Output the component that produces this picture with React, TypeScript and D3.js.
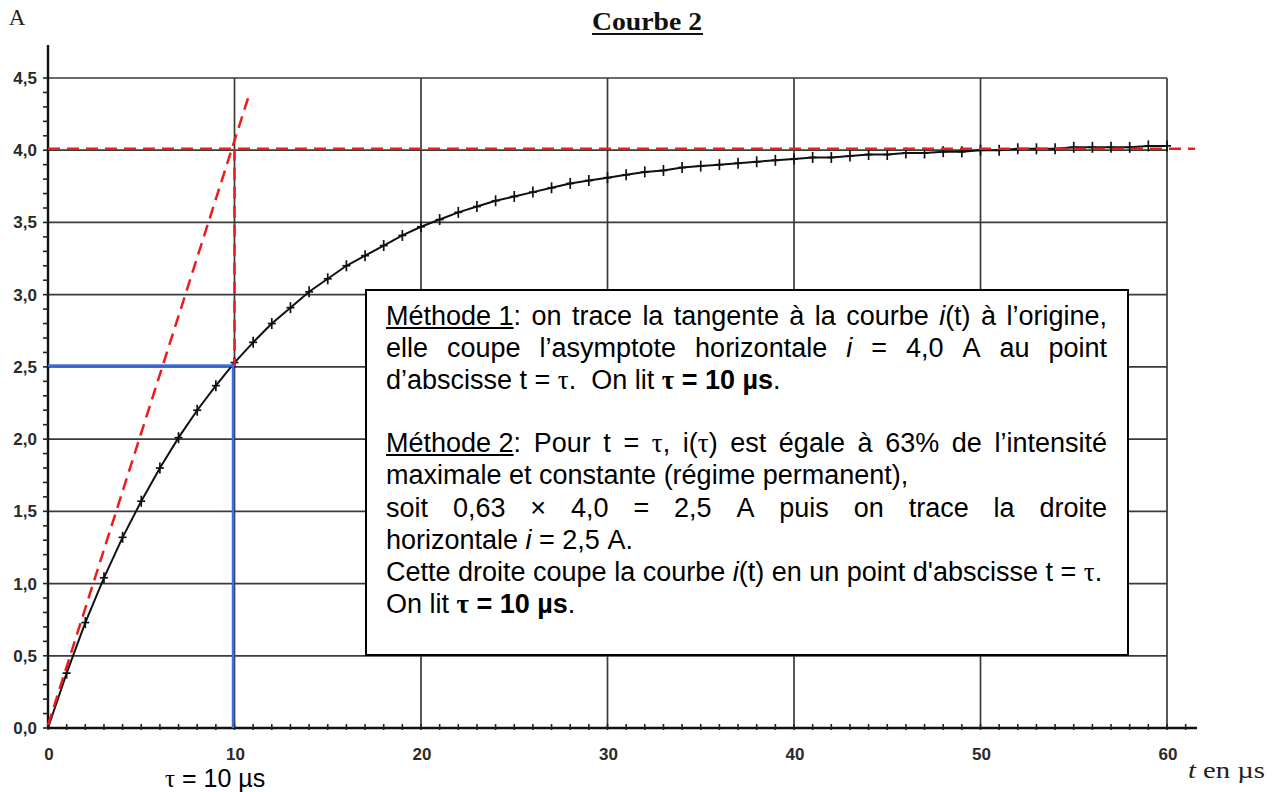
import React, { useMemo } from "react";
import * as d3 from "d3";

// ---------- data ----------
const tTimes = [
  0, 1, 2, 3, 4, 5, 6, 7, 8, 9, 10, 11, 12, 13, 14, 15, 16, 17, 18, 19, 20,
  21, 22, 23, 24, 25, 26, 27, 28, 29, 30, 31, 32, 33, 34, 35, 36, 37, 38, 39, 40,
  41, 42, 43, 44, 45, 46, 47, 48, 49, 50, 51, 52, 53, 54, 55, 56, 57, 58, 59, 60,
];
const iValues = [
  0, 0.38, 0.73, 1.04, 1.32, 1.57, 1.8, 2.01, 2.2, 2.37, 2.53,
  2.67, 2.8, 2.91, 3.02, 3.11, 3.2, 3.27, 3.34, 3.41, 3.47,
  3.52, 3.57, 3.61, 3.65, 3.68, 3.71, 3.74, 3.77, 3.79, 3.81,
  3.83, 3.85, 3.86, 3.88, 3.89, 3.9, 3.91, 3.92, 3.93, 3.94,
  3.95, 3.95, 3.96, 3.97, 3.97, 3.98, 3.98, 3.99, 3.99, 4.0,
  4.0, 4.01, 4.01, 4.01, 4.02, 4.02, 4.02, 4.02, 4.03, 4.03,
];
const xMajorTicks = [0, 10, 20, 30, 40, 50, 60];
const xTickLabels = ["0", "10", "20", "30", "40", "50", "60"];
const yMajorTicks = [0, 0.5, 1, 1.5, 2, 2.5, 3, 3.5, 4, 4.5];
const yTickLabels = ["0,0", "0,5", "1,0", "1,5", "2,0", "2,5", "3,0", "3,5", "4,0", "4,5"];
const xMinorTicks = d3.range(0, 62, 1);
const yMinorTicks = d3.range(0, 4.55, 0.1);
const tangentPts: [number, number][] = [[0, 0.02], [10.75, 4.37]];
const asymptotePts: [number, number][] = [[0, 4.01], [61.5, 4.01]];
const tauVerticalRed: [number, number][] = [[10, 4.01], [10, 2.51]];
const blueHorizontal: [number, number][] = [[0, 2.51], [10, 2.51]];
const blueVertical: [number, number][] = [[9.92, 2.51], [9.92, 0]];

const boxLines: { s: string; j: boolean }[] = [
  { s: "_Méthode~1_: on trace la tangente à la courbe *i*(t) à l’origine,", j: true },
  { s: "elle coupe l’asymptote horizontale *i* = 4,0 A au point", j: true },
  { s: "d’abscisse t = τ.~~On lit #τ~=~10~µs#.", j: false },
  { s: "", j: false },
  { s: "_Méthode~2_: Pour t = τ, i(τ) est égale à 63% de l’intensité", j: true },
  { s: "maximale et constante (régime permanent),", j: false },
  { s: "soit 0,63 × 4,0 = 2,5 A puis on trace la droite", j: true },
  { s: "horizontale *i* = 2,5 A.", j: false },
  { s: "Cette droite coupe la courbe *i*(t) en un point d'abscisse t = τ.", j: false },
  { s: "On lit #τ~=~10~µs#.", j: false },
];

// ---------- helpers ----------
type Seg = { t: string; u: boolean; it: boolean; b: boolean; g: boolean };
const FS = 27;
const SANS = "Liberation Sans, Arial, sans-serif";
const SERIF = "Liberation Serif, Times New Roman, serif";

function parseWord(w: string): Seg[] {
  const segs: Seg[] = [];
  let u = false, it = false, b = false;
  let cur = "";
  const push = () => {
    if (!cur) return;
    const parts = cur.split(/(τ)/);
    parts.forEach((p) => {
      if (p) segs.push({ t: p, u, it, b, g: p === "τ" });
    });
    cur = "";
  };
  for (const ch of w) {
    if (ch === "_") { push(); u = !u; }
    else if (ch === "*") { push(); it = !it; }
    else if (ch === "#") { push(); b = !b; }
    else if (ch === "~") cur += " ";
    else cur += ch;
  }
  push();
  return segs;
}

function fontOf(s: Seg) {
  return `${s.it ? "italic " : ""}${s.b ? "bold " : ""}${FS}px ${s.g ? SERIF : SANS}`;
}

export default function App() {
  const W = 1281, H = 792;
  const x = d3.scaleLinear().domain([0, 60]).range([48, 1167]);
  const y = d3.scaleLinear().domain([0, 4.5]).range([728, 78]);
  const line = d3.line<[number, number]>().x((d) => x(d[0])).y((d) => y(d[1]));
  const curve: [number, number][] = tTimes.map((t, k) => [t, iValues[k]]);

  const textLayout = useMemo(() => {
    const cv = document.createElement("canvas");
    const ctx = cv.getContext("2d")!;
    const measure = (s: Seg) => { ctx.font = fontOf(s); return ctx.measureText(s.t).width; };
    ctx.font = `${FS}px ${SANS}`;
    const spaceW = ctx.measureText(" ").width;
    const left = 386, right = 1107;
    const baselines = [325, 357, 389, 421, 452, 484, 517, 549, 581, 613];
    const out: { x: number; y: number; seg: Seg; w: number }[] = [];
    boxLines.forEach((ln, li) => {
      if (!ln.s) return;
      const words = ln.s.split(" ").map(parseWord);
      const ww = words.map((ws) => ws.reduce((a, s) => a + measure(s), 0));
      const total = ww.reduce((a, b) => a + b, 0);
      const gap = ln.j && words.length > 1 ? (right - left - total) / (words.length - 1) : spaceW;
      let cx = left;
      words.forEach((ws) => {
        ws.forEach((s) => {
          const w = measure(s);
          out.push({ x: cx, y: baselines[li], seg: s, w });
          cx += w;
        });
        cx += gap;
      });
    });
    return out;
  }, []);

  const red = "#f01a1a";
  const blue = "#3b6fe8";

  return (
    <svg width={W} height={H} style={{ position: "absolute", left: 0, top: 0, display: "block", background: "#fff" }}>
      <rect x={0} y={0} width={W} height={H} fill="#fff" />
      {/* title */}
      <text x={592} y={30} fontFamily={SERIF} fontWeight="bold" fontSize={25} fill="#111" textLength={110} lengthAdjust="spacingAndGlyphs">Courbe 2</text>
      <line x1={592} x2={703} y1={34} y2={34} stroke="#111" strokeWidth={2} />
      <text x={17} y={25} textAnchor="middle" fontFamily={SERIF} fontSize={23} fill="#222">A</text>

      {/* grid */}
      <g stroke="#3a3a3a" strokeWidth={1.7}>
        {xMajorTicks.filter((t) => t > 0).map((t) => (
          <line key={"gx" + t} x1={x(t)} x2={x(t)} y1={y(0)} y2={y(4.5)} />
        ))}
        {yMajorTicks.filter((v) => v > 0).map((v) => (
          <line key={"gy" + v} x1={x(0)} x2={x(60)} y1={y(v)} y2={y(v)} />
        ))}
      </g>
      {/* axes */}
      <line x1={x(0)} x2={x(0)} y1={y(0)} y2={45} stroke="#111" strokeWidth={2.4} />
      <line x1={x(0)} x2={1197} y1={y(0)} y2={y(0)} stroke="#111" strokeWidth={2.4} />
      <g stroke="#222" strokeWidth={1.6}>
        {xMinorTicks.map((t) => (
          <line key={"mx" + t} x1={x(t)} x2={x(t)} y1={y(0) - 4} y2={y(0) + 2} />
        ))}
        {yMinorTicks.map((v, k) => (
          <line key={"my" + k} x1={x(0) - 5} x2={x(0)} y1={y(v)} y2={y(v)} />
        ))}
      </g>
      {/* tick labels */}
      <g fontFamily={SANS} fontWeight="bold" fontSize="17px" fill="#2a2a2a">
        {yMajorTicks.map((v, k) => (
          <text key={"ly" + k} x={37} y={y(v)} dy="0.35em" textAnchor="end" fontSize="17px">{yTickLabels[k]}</text>
        ))}
        {xMajorTicks.map((t, k) => (
          <text key={"lx" + k} x={x(t) + 1} y={760} textAnchor="middle" fontSize="17px">{xTickLabels[k]}</text>
        ))}
      </g>
      <text x={1188} y={778} fontFamily={SERIF} fontSize={23} fill="#222" textLength={77} lengthAdjust="spacingAndGlyphs">
        <tspan fontStyle="italic">t</tspan> en µs
      </text>
      <text x={165} y={787} fontFamily={SANS} fontSize={25} fill="#000">
        <tspan fontFamily={SERIF}>τ</tspan> = 10 µs
      </text>

      {/* curve */}
      <path d={line(curve) || ""} fill="none" stroke="#111" strokeWidth={2} />
      <g stroke="#111" strokeWidth={1.7}>
        {curve.slice(1).map((d, k) => (
          <g key={"m" + k}>
            <line x1={x(d[0])} x2={x(d[0])} y1={y(d[1]) - 5.5} y2={y(d[1]) + 5.5} />
            <line x1={x(d[0]) - 4} x2={x(d[0]) + 4} y1={y(d[1])} y2={y(d[1])} />
          </g>
        ))}
      </g>

      {/* blue construction lines */}
      <path d={line(blueHorizontal) || ""} stroke={blue} strokeWidth={2.5} fill="none" />
      <path d={line(blueVertical) || ""} stroke={blue} strokeWidth={2.5} fill="none" />
      {/* red dashed lines */}
      <g stroke={red} strokeWidth={2.5} strokeDasharray="12 7" fill="none">
        <path d={line(tangentPts) || ""} />
        <path d={line(asymptotePts) || ""} />
        <path d={line(tauVerticalRed) || ""} />
      </g>

      {/* text box */}
      <rect x={366} y={290} width={762} height={365} fill="#fff" stroke="#000" strokeWidth={2} />
      {textLayout.map((p, k) => (
        <g key={"tx" + k}>
          <text
            x={p.x}
            y={p.y}
            fontFamily={p.seg.g ? SERIF : SANS}
            fontSize={FS}
            fontStyle={p.seg.it ? "italic" : "normal"}
            fontWeight={p.seg.b ? "bold" : "normal"}
            fill="#000"
            style={{ whiteSpace: "pre" }}
          >
            {p.seg.t}
          </text>
          {p.seg.u && <line x1={p.x} x2={p.x + p.w} y1={p.y + 3} y2={p.y + 3} stroke="#000" strokeWidth={2} />}
        </g>
      ))}
    </svg>
  );
}
